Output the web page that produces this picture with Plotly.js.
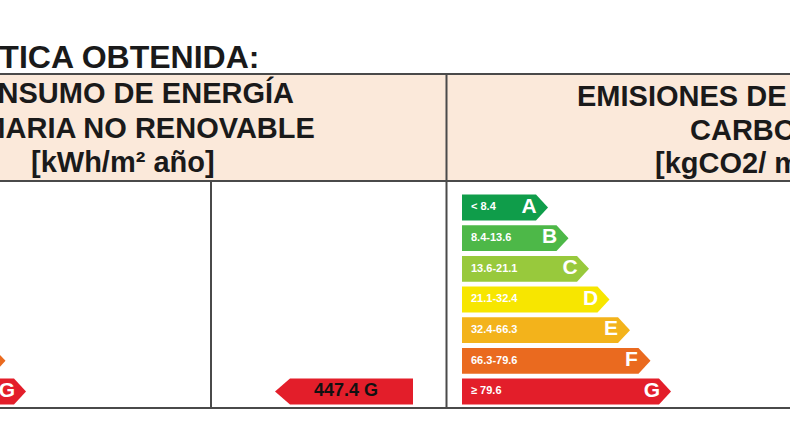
<!DOCTYPE html>
<html>
<head>
<meta charset="utf-8">
<script src="https://cdn.plot.ly/plotly-3.0.1.min.js"></script>
<style>html,body{margin:0;padding:0;background:#fff;}#chart{width:790px;height:440px;}</style>
</head>
<body>
<div id="chart"></div>
<script>
// ---- data ----
const ratings = ['A', 'B', 'C', 'D', 'E', 'F', 'G'];
const co2Ranges = ['< 8.4', '8.4-13.6', '13.6-21.1', '21.1-32.4', '32.4-66.3', '66.3-79.6', '≥ 79.6'];
const consumoValue = 447.4;
const consumoRating = 'G';
const pageTitle = 'CALIFICACIÓN ENERGÉTICA OBTENIDA:';
const consumoHeader = ['CONSUMO DE ENERGÍA', 'PRIMARIA NO RENOVABLE', '[kWh/m² año]'];
const emisionesHeader = ['EMISIONES DE DIÓXIDO DE', 'CARBONO', '[kgCO2/ m² año]'];

// ---- styles ----
const ratingColors = ['#0f9d4a', '#4db848', '#98c93c', '#f7e600', '#f3b31b', '#ea6a1f', '#e31e2a'];
const W = 790, H = 440;
const FONT = '"Liberation Sans", Arial, sans-serif';
const PITCH = 30.67, ROW0 = 207.5;        // px of row 0 centre, px per row
const HALF = 12.9 / PITCH;                 // half bar height in row units
const BAR_LEFT = 462, BODY0 = 536, STEP = 20.5, TIPD = 12;

const px = x => x / W;
const py = y => 1 - y / H;

const traces = [];
function ratingScale(dx, labels) {
  ratings.forEach((r, i) => {
    const left = BAR_LEFT + dx, body = BODY0 + STEP * i + dx, tip = body + TIPD;
    traces.push({
      type: 'scatter', mode: 'lines', fill: 'toself', fillcolor: ratingColors[i],
      line: {width: 0}, hoverinfo: 'skip',
      x: [left, body, tip, body, left, left],
      y: [i - HALF, i - HALF, i, i + HALF, i + HALF, i - HALF]
    });
  });
  if (labels) {
    traces.push({
      type: 'scatter', mode: 'text', hoverinfo: 'skip',
      x: ratings.map(() => BAR_LEFT + 9 + dx), y: ratings.map((r, i) => i),
      text: labels, textposition: 'middle right',
      textfont: {family: FONT, size: 11, color: '#ffffff', weight: 'bold'}
    });
  }
  // rating letters (only those that fall inside the visible frame)
  const lx = [], ly = [], lt = [];
  ratings.forEach((r, i) => {
    const x = BODY0 + STEP * i + dx - 7;
    if (x > 0) { lx.push(x); ly.push(i); lt.push(r); }
  });
  traces.push({
    type: 'scatter', mode: 'text', hoverinfo: 'skip',
    x: lx, y: ly, text: lt, textposition: 'middle center',
    textfont: {family: FONT, size: 21, color: '#ffffff', weight: 'bold'}
  });
}
ratingScale(0, co2Ranges);
ratingScale(-645, null);

// indicator arrow for consumo
const ci = ratings.indexOf(consumoRating);
traces.push({
  type: 'scatter', mode: 'lines', fill: 'toself', fillcolor: ratingColors[ci],
  line: {width: 0}, hoverinfo: 'skip',
  x: [413, 290, 275, 290, 413, 413],
  y: [ci - HALF, ci - HALF, ci, ci + HALF, ci + HALF, ci - HALF]
});
traces.push({
  type: 'scatter', mode: 'text', hoverinfo: 'skip',
  x: [346], y: [ci], text: [consumoValue.toFixed(1) + ' ' + consumoRating],
  textposition: 'middle center',
  textfont: {family: FONT, size: 18, color: '#111111', weight: 'bold'}
});

const LINE = {color: '#4a4a4a', width: 2};
const shapes = [
  {type: 'rect', xref: 'paper', yref: 'paper', x0: -0.1, x1: 1.1, y0: py(181), y1: py(74),
   fillcolor: '#fbe9da', line: {width: 0}, layer: 'below'},
  {type: 'line', xref: 'paper', yref: 'paper', x0: -0.1, x1: 1.1, y0: py(74), y1: py(74), line: LINE},
  {type: 'line', xref: 'paper', yref: 'paper', x0: -0.1, x1: 1.1, y0: py(181), y1: py(181), line: LINE},
  {type: 'line', xref: 'paper', yref: 'paper', x0: -0.1, x1: 1.1, y0: py(408), y1: py(408), line: LINE},
  {type: 'line', xref: 'paper', yref: 'paper', x0: px(446.5), x1: px(446.5), y0: py(74), y1: py(408), line: LINE},
  {type: 'line', xref: 'paper', yref: 'paper', x0: px(211), x1: px(211), y0: py(181), y1: py(408), line: LINE}
];

function ann(text, x, y, xanchor, size) {
  return {text: text, xref: 'paper', yref: 'paper', x: px(x), y: py(y), xanchor: xanchor, yanchor: 'middle',
    showarrow: false, borderpad: 0, borderwidth: 0,
    font: {family: FONT, size: size, color: '#1a1a1a', weight: 'bold'}};
}
const annotations = [
  ann(pageTitle, 259, 56.5, 'right', 32),
  ann(consumoHeader[0], 294, 92.5, 'right', 29),
  ann(consumoHeader[1], 315, 127.5, 'right', 29),
  ann(consumoHeader[2], 122.5, 161.5, 'center', 29),
  ann(emisionesHeader[0], 577, 95, 'left', 29),
  ann(emisionesHeader[1], 690, 130, 'left', 29),
  ann(emisionesHeader[2], 655, 163, 'left', 29)
];

const layout = {
  width: W, height: H, margin: {l: 0, r: 0, t: 0, b: 0},
  paper_bgcolor: '#ffffff', plot_bgcolor: '#ffffff', showlegend: false,
  xaxis: {range: [0, W], visible: false, fixedrange: true},
  yaxis: {range: [(H - ROW0) / PITCH, -ROW0 / PITCH], visible: false, fixedrange: true},
  shapes: shapes, annotations: annotations
};
Plotly.newPlot('chart', traces, layout, {staticPlot: true, displayModeBar: false});
</script>
</body>
</html>
